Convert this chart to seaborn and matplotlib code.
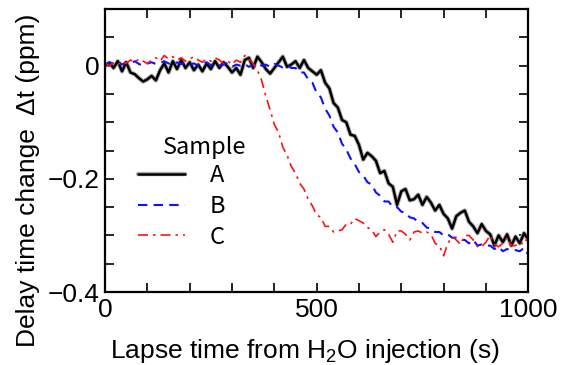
import numpy as np
import pandas as pd
import matplotlib
matplotlib.use('Agg')
import matplotlib.pyplot as plt
import matplotlib.patheffects as pe
from matplotlib.ticker import MultipleLocator
import seaborn as sns

# time axis (s), one reading every 10 s
time_s = list(range(0, 1001, 10))

# delay time change (ppm)
sample_a = [
    0.000, 0.005, -0.004, 0.008, -0.010, 0.006, -0.012, -0.015, -0.022, -0.028,
    -0.024, -0.018, -0.026, -0.008, 0.004, -0.012, 0.008, -0.006, 0.010, -0.004,
    0.006, -0.008, 0.002, -0.010, 0.004, -0.006, 0.008, -0.004, 0.006, -0.002,
    -0.012, -0.004, -0.016, 0.010, 0.014, -0.004, 0.016, 0.006, -0.006, -0.014,
    -0.004, 0.006, 0.016, -0.002, 0.002, 0.008, -0.004, 0.010, -0.004, -0.010,
    -0.016, -0.008, -0.030, -0.040, -0.066, -0.074, -0.096, -0.100, -0.122, -0.124,
    -0.140, -0.166, -0.154, -0.160, -0.168, -0.190, -0.186, -0.208, -0.214, -0.246,
    -0.222, -0.218, -0.238, -0.236, -0.228, -0.246, -0.232, -0.242, -0.256, -0.246,
    -0.262, -0.270, -0.288, -0.266, -0.260, -0.256, -0.276, -0.284, -0.296, -0.280,
    -0.292, -0.298, -0.318, -0.300, -0.312, -0.298, -0.318, -0.302, -0.314, -0.296,
    -0.308,
]
sample_b = [
    0.002, 0.006, 0.004, 0.008, 0.002, 0.006, 0.004, 0.008, 0.003, 0.000,
    0.004, 0.006, 0.003, 0.005, 0.008, 0.004, 0.002, 0.006, 0.003, 0.005,
    0.002, 0.004, 0.000, 0.003, 0.006, 0.001, 0.004, 0.000, 0.002, 0.005,
    -0.002, 0.002, 0.000, 0.003, -0.002, 0.001, 0.004, 0.000, 0.002, -0.002,
    0.003, 0.000, -0.003, 0.001, -0.004, -0.004, -0.012, -0.012, -0.024, -0.030,
    -0.048, -0.056, -0.076, -0.088, -0.108, -0.118, -0.138, -0.148, -0.164, -0.174,
    -0.188, -0.194, -0.206, -0.210, -0.224, -0.230, -0.240, -0.240, -0.250, -0.250,
    -0.258, -0.260, -0.268, -0.270, -0.276, -0.278, -0.286, -0.288, -0.294, -0.294,
    -0.300, -0.298, -0.304, -0.304, -0.308, -0.308, -0.314, -0.308, -0.318, -0.316,
    -0.318, -0.318, -0.324, -0.320, -0.328, -0.324, -0.326, -0.326, -0.328, -0.322,
    -0.334,
]
sample_c = [
    0.004, 0.000, 0.006, 0.002, 0.008, 0.004, 0.010, 0.006, 0.012, 0.008,
    0.004, 0.010, 0.014, 0.008, 0.018, 0.012, 0.016, 0.010, 0.014, 0.008,
    0.012, 0.016, 0.010, 0.006, 0.012, 0.008, 0.014, 0.010, 0.004, 0.008,
    0.002, 0.010, 0.006, 0.018, 0.012, 0.004, -0.008, -0.026, -0.054, -0.078,
    -0.104, -0.118, -0.144, -0.158, -0.178, -0.190, -0.208, -0.218, -0.236, -0.248,
    -0.264, -0.268, -0.284, -0.284, -0.294, -0.292, -0.290, -0.280, -0.280, -0.270,
    -0.274, -0.278, -0.286, -0.290, -0.302, -0.294, -0.290, -0.298, -0.312, -0.292,
    -0.292, -0.298, -0.308, -0.294, -0.292, -0.296, -0.294, -0.298, -0.314, -0.318,
    -0.336, -0.314, -0.302, -0.308, -0.316, -0.300, -0.300, -0.308, -0.320, -0.320,
    -0.312, -0.300, -0.316, -0.320, -0.314, -0.304, -0.318, -0.318, -0.312, -0.316,
    -0.302,
]

labels = ['A', 'B', 'C']
colors = ['black', '#1010ff', '#ff1010']

sns.set_style('ticks', {'axes.edgecolor': 'black', 'text.color': 'black',
                        'xtick.color': 'black', 'ytick.color': 'black',
                        'axes.labelcolor': 'black'})
plt.rcParams['font.family'] = ['Liberation Sans', 'DejaVu Sans']
plt.rcParams['mathtext.fontset'] = 'custom'
plt.rcParams['mathtext.rm'] = 'Liberation Sans'
plt.rcParams['mathtext.default'] = 'regular'
plt.rcParams['axes.unicode_minus'] = True

fig = plt.figure(figsize=(5.68, 3.65), dpi=100)
ax = fig.add_axes([0.185, 0.2, 0.745, 0.775])

df = pd.DataFrame({'t': time_s * 3,
                   'dt': sample_a + sample_b + sample_c,
                   'Sample': ['A'] * len(time_s) + ['B'] * len(time_s) + ['C'] * len(time_s)})

# A: solid black with soft grey edge
sns.lineplot(data=df[df.Sample == 'A'], x='t', y='dt', color=colors[0], lw=1.8,
             ax=ax, label='A',
             path_effects=[pe.Stroke(linewidth=3.2, foreground='0.7'), pe.Normal()])
# B: blue dashed
sns.lineplot(data=df[df.Sample == 'B'], x='t', y='dt', color=colors[1], lw=1.5,
             ax=ax, label='B', dashes=False)
ax.lines[-1].set_dashes((4.5, 3))
# C: red dash-dot
sns.lineplot(data=df[df.Sample == 'C'], x='t', y='dt', color=colors[2], lw=1.2,
             ax=ax, label='C', dashes=False)
ax.lines[-1].set_dashes((6, 3, 1.5, 3))

ax.set_xlim(0, 1000)
ax.set_ylim(-0.4, 0.1)
ax.set_xticks([0, 500, 1000])
ax.set_xticklabels(['0', '500', '1000'])
ax.set_yticks([0, -0.2, -0.4])
ax.set_yticklabels(['0', '\u22120.2', '\u22120.4'])
ax.xaxis.set_minor_locator(MultipleLocator(100))
ax.yaxis.set_minor_locator(MultipleLocator(0.05))
ax.tick_params(which='both', direction='in', top=True, right=True, colors='black',
               length=6.5, width=1.2, labelsize=19, pad=4)
for s in ax.spines.values():
    s.set_linewidth(1.6)
    s.set_color('black')

ax.set_xlabel('Lapse time from H$_2$O injection (s)', fontsize=19, color='black')
ax.set_ylabel('Delay time change  \u0394t (ppm)', fontsize=19, color='black')
ax.xaxis.set_label_coords(0.473, -0.158)
ax.yaxis.set_label_coords(-0.154, 0.396)

leg = ax.legend(frameon=False, loc='upper left', bbox_to_anchor=(0.078, 0.452),
                borderaxespad=0, borderpad=0, handlelength=2.0, handletextpad=1.05,
                labelspacing=0.33, prop={'family': 'Noto Sans CJK JP', 'size': 17})
for t in leg.get_texts():
    t.set_color('black')
ax.text(0.137, 0.51, 'Sample', transform=ax.transAxes, ha='left', va='center',
        fontsize=17, family='Noto Sans CJK JP', color='black')

fig.savefig('out.png', dpi=100)
